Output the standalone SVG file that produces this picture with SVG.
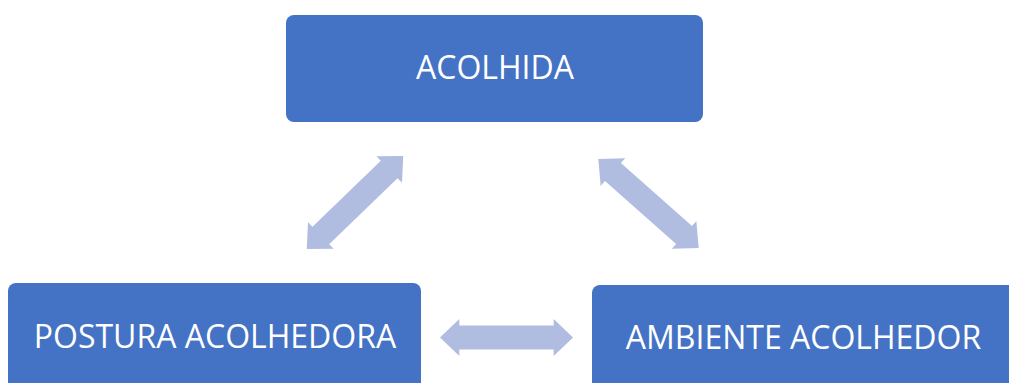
<svg xmlns="http://www.w3.org/2000/svg" xmlns:xlink="http://www.w3.org/1999/xlink" width="1009" height="383" viewBox="0 0 1009 383">
<style>
.box{fill:#4472C4;}
.lbl{fill:#FFFFFF;font-family:"Open Sans","Noto Sans","Liberation Sans",sans-serif;font-size:32px;text-anchor:middle;}
.arr{fill:#B0BDE0;}
</style>
<defs>
<path id="dbl" d="M -67,0 L -47.5,-18.5 L -47.5,-12 L 47.5,-12 L 47.5,-18.5 L 67,0 L 47.5,18.5 L 47.5,12 L -47.5,12 L -47.5,18.5 Z"/>
</defs>
<rect width="1009" height="383" fill="#FFFFFF"/>
<g id="connectors">
<use xlink:href="#dbl" href="#dbl" class="arr" transform="translate(355,202.5) rotate(-44)"/>
<use xlink:href="#dbl" href="#dbl" class="arr" transform="translate(648.5,203.5) rotate(41.5)"/>
<use xlink:href="#dbl" href="#dbl" class="arr" transform="translate(506.5,337.5) scale(0.993,1)"/>
</g>
<g id="acolhida">
<rect class="box" x="286" y="15" width="417" height="107" rx="8" ry="8"/>
<text class="lbl" x="495" y="79">ACOLHIDA</text>
</g>
<g id="postura-acolhedora">
<rect class="box" x="8" y="283" width="413" height="120" rx="8" ry="8"/>
<text class="lbl" x="215" y="348">POSTURA ACOLHEDORA</text>
</g>
<g id="ambiente-acolhedor">
<rect class="box" x="592" y="285" width="430" height="120" rx="8" ry="8"/>
<text class="lbl" x="803.5" y="349">AMBIENTE ACOLHEDOR</text>
</g>
</svg>
